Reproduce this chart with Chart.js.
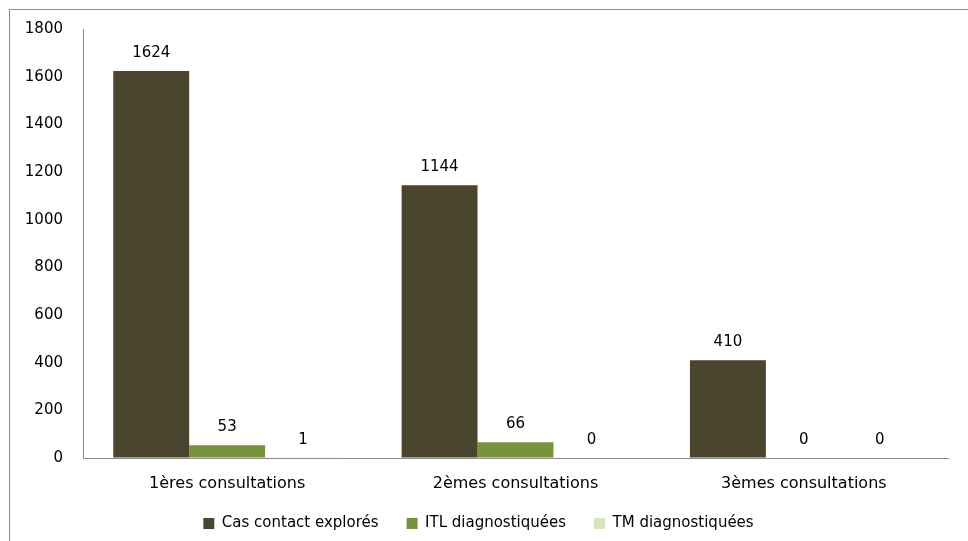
<!DOCTYPE html>
<html>
<head>
<meta charset="utf-8">
<script src="https://cdn.jsdelivr.net/npm/chart.js@4.4.1/dist/chart.umd.min.js"></script>
<style>
    body { margin: 0; background: #fff; overflow: hidden; }
    #wrap { position: relative; width: 968px; height: 541px; overflow: hidden; }
    #frame { position: absolute; left: 9px; top: 9px; width: 980px; height: 560px; border: 1px solid #8c8c8c; box-sizing: border-box; pointer-events: none; }
</style>
</head>
<body>
<div id="wrap">
    <canvas id="chart" width="968" height="541"></canvas>
    <div id="frame"></div>
</div>
<script>
// data
const categories = ['1ères consultations', '2èmes consultations', '3èmes consultations'];
const casContact = [1624, 1144, 410];
const itlDiag = [53, 66, 0];
const tmDiag = [1, 0, 0];
const yTicks = [0, 200, 400, 600, 800, 1000, 1200, 1400, 1600, 1800];

const FONT = '"DejaVu Sans", sans-serif';

// value labels above bars
const valueLabels = {
    id: 'valueLabels',
    afterDatasetsDraw(chart) {
        let ctx = chart.ctx;
        ctx.save();
        ctx.font = '15px ' + FONT;
        ctx.fillStyle = '#000';
        ctx.textAlign = 'center';
        ctx.textBaseline = 'alphabetic';
        chart.data.datasets.forEach((ds, i) => {
            chart.getDatasetMeta(i).data.forEach((bar, j) => {
                ctx.fillText(ds.data[j], bar.x, bar.y - 14);
            });
        });
        ctx.restore();
    }
};

new Chart(document.getElementById('chart'), {
    type: 'bar',
    data: {
        labels: categories,
        datasets: [
            { label: 'Cas contact explorés', data: casContact, backgroundColor: '#4a452e' },
            { label: 'ITL diagnostiquées', data: itlDiag, backgroundColor: '#77933c' },
            { label: 'TM diagnostiquées', data: tmDiag, backgroundColor: '#d7e4bd' }
        ]
    },
    options: {
        responsive: false,
        animation: false,
        layout: { padding: { left: 9, right: 20, top: 26, bottom: 0 } },
        datasets: { bar: { categoryPercentage: 0.79, barPercentage: 1 } },
        plugins: {
            legend: {
                position: 'bottom',
                labels: {
                    boxWidth: 11,
                    boxHeight: 11,
                    padding: 28,
                    color: '#000',
                    font: { family: FONT, size: 15 }
                }
            },
            tooltip: { enabled: false }
        },
        scales: {
            x: {
                grid: { drawOnChartArea: false, drawTicks: false },
                border: { color: '#8c8c8c', width: 1 },
                ticks: { color: '#000', padding: 16, font: { family: FONT, size: 16 } },
                afterFit: (s) => { s.height = 30; }
            },
            y: {
                min: 0,
                max: 1800,
                afterBuildTicks: (s) => { s.ticks = yTicks.map(v => ({ value: v })); },
                grid: { drawOnChartArea: false, drawTicks: false },
                border: { color: '#8c8c8c', width: 1 },
                ticks: {
                    color: '#000',
                    padding: 20,
                    font: { family: FONT, size: 15 },
                    callback: (v) => String(v)
                },
                afterFit: (s) => { s.width = 74; }
            }
        }
    },
    plugins: [valueLabels]
});
</script>
</body>
</html>
